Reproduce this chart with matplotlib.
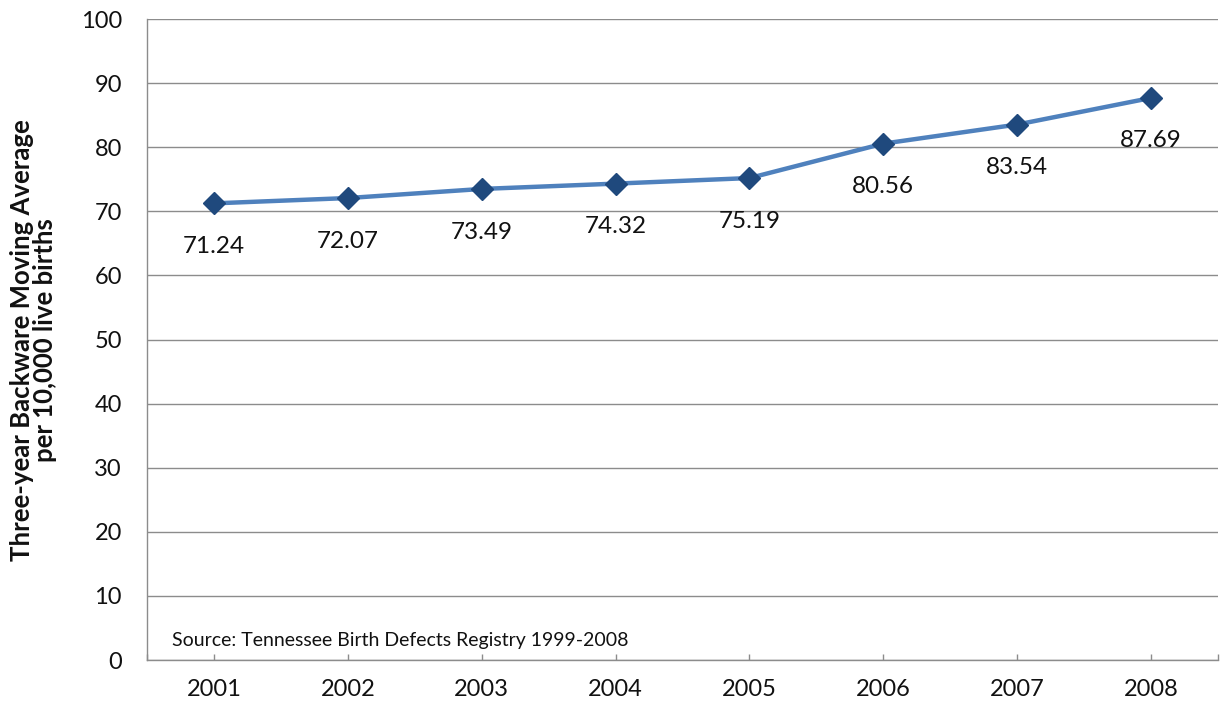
import matplotlib
matplotlib.use("Agg")
import matplotlib.pyplot as plt

years = ["2001", "2002", "2003", "2004", "2005", "2006", "2007", "2008"]
rates = [71.24, 72.07, 73.49, 74.32, 75.19, 80.56, 83.54, 87.69]
y_ticks = [0, 10, 20, 30, 40, 50, 60, 70, 80, 90, 100]

plt.rcParams["font.family"] = ["Lato", "DejaVu Sans"]

fig = plt.figure(figsize=(12.25, 7.15), dpi=100)
ax = fig.add_axes([0.120, 0.0769, 0.8743, 0.8965])

x = list(range(len(years)))
ax.plot(x, rates, color="#4F81BD", linewidth=3.2, zorder=3,
        marker="D", markersize=11, markerfacecolor="#1F497D",
        markeredgecolor="#1F497D")

for xi, v in zip(x, rates):
    ax.annotate(f"{v:.2f}", (xi, v), xytext=(0, -31), textcoords="offset points",
                ha="center", va="center", fontsize=17.5, color="#111111")

ax.set_xlim(-0.5, len(years) - 0.5)
ax.set_ylim(0, 100)
ax.set_yticks(y_ticks)
ax.set_xticks(x)
ax.set_xticklabels(years)
ax.set_xticks([-0.5, len(years) - 0.5], minor=True)

ax.grid(axis="y", color="#8C8C8C", linewidth=1.0)
ax.set_axisbelow(True)
for side in ("top", "right"):
    ax.spines[side].set_visible(False)
for side in ("left", "bottom"):
    ax.spines[side].set_color("#8C8C8C")
    ax.spines[side].set_linewidth(1.0)

ax.tick_params(axis="y", length=0, pad=18, labelsize=17, labelcolor="#111111")
ax.tick_params(axis="x", which="both", direction="in", length=4, width=1,
               color="#8C8C8C", pad=14, labelsize=17, labelcolor="#111111")

fig.text(0.027, 0.524, "Three-year Backware Moving Average\nper 10,000 live births",
         rotation=90, ha="center", va="center", fontsize=18.5, fontweight="bold",
         linespacing=0.95, color="#111111")

ax.text(0.023, 0.03, "Source: Tennessee Birth Defects Registry 1999-2008",
        transform=ax.transAxes, ha="left", va="center", fontsize=14, color="#111111")

fig.savefig("out.png", dpi=100)
